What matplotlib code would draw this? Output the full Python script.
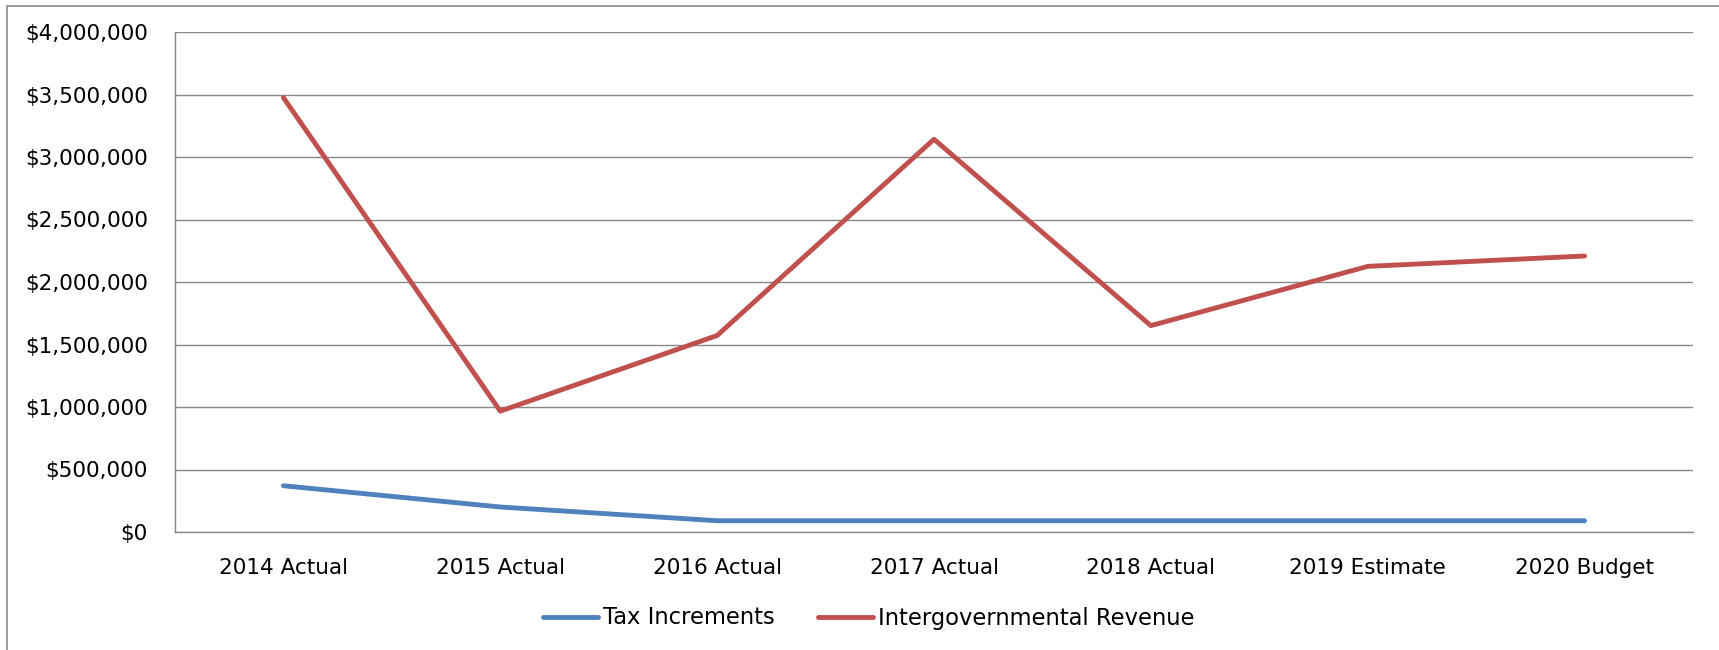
import matplotlib.pyplot as plt
from matplotlib.patches import Rectangle
from matplotlib.ticker import FuncFormatter

categories = ["2014 Actual", "2015 Actual", "2016 Actual", "2017 Actual",
              "2018 Actual", "2019 Estimate", "2020 Budget"]
tax_increments = [370000, 200000, 90000, 90000, 90000, 90000, 90000]
intergov_revenue = [3475000, 967000, 1572000, 3142000, 1651000, 2125000, 2208000]

W, H = 1719, 650
fig = plt.figure(figsize=(W / 100, H / 100), dpi=100)
ax = fig.add_axes([175 / W, 1 - 532 / H, (1693 - 175) / W, (532 - 32) / H])

x = range(len(categories))
ax.plot(x, tax_increments, color="#4F81BD", linewidth=3.5, solid_capstyle="round",
        label="Tax Increments")
ax.plot(x, intergov_revenue, color="#C0504D", linewidth=3.5, solid_capstyle="round",
        label="Intergovernmental Revenue")

ax.set_xlim(-0.5, len(categories) - 0.5)
ax.set_ylim(0, 4000000)
ax.set_yticks(range(0, 4000001, 500000))
ax.yaxis.set_major_formatter(FuncFormatter(lambda v, p: f"${v:,.0f}"))
ax.set_xticks(list(x))
ax.set_xticklabels(categories)
ax.tick_params(length=0, labelsize=15.5, colors="black")
ax.tick_params(axis="y", pad=19.5)
ax.tick_params(axis="x", pad=18.5)
ax.grid(axis="y", color="#888888", linewidth=1.0)
ax.set_axisbelow(True)
for s in ["top", "right"]:
    ax.spines[s].set_visible(False)
for s in ["left", "bottom"]:
    ax.spines[s].set_color("#888888")
    ax.spines[s].set_linewidth(1.0)

fig.legend(loc="center left", bbox_to_anchor=(543 / W, 1 - 618 / H), ncol=2,
           frameon=False, fontsize=16.3, handlelength=2.45, handletextpad=0.2,
           columnspacing=1.9, borderaxespad=0, borderpad=0)

# outer chart border
fig.patches.append(Rectangle((7 / W, -0.1), 1.2, 1.1 - 6 / H, transform=fig.transFigure,
                             fill=False, edgecolor="#888888", linewidth=1.2))

fig.savefig("out.png", dpi=100)
